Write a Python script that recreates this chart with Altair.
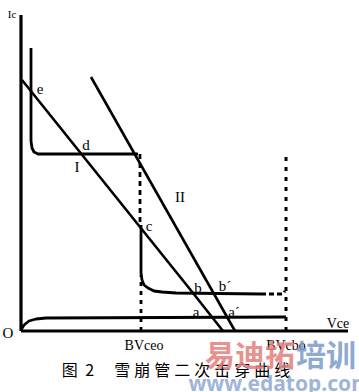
import altair as alt
import pandas as pd

# ---- data (units: Vce along x, Ic along y) ----
axis_y_x = [0, 0]
axis_y_y = [0, 316]
axis_x_x = [0, 327]
axis_x_y = [0, 0]

brk_top_x = [10, 10, 11, 13, 17, 22, 117]
brk_top_y = [283, 190, 183, 179, 177, 177, 177]
brk_mid_x = [119, 119]
brk_mid_y = [177, 106]
brk_low_x = [120, 120, 121, 123, 127, 133, 141, 155, 240]
brk_low_y = [106, 58, 51, 46, 43, 40, 39, 38, 37]
brk_end_x = [240, 262, 264]
brk_end_y = [37, 37, 40]

base_x = [0, 3, 8, 15, 25, 265]
base_y = [1, 6, 10, 12, 13, 14]

loadI_x = [1, 172, 202]
loadI_y = [251, 38, 0]
loadII_x = [70, 214]
loadII_y = [254, 0]

bvceo_x = [120, 120]
bvceo_y = [0, 56]
bvcbo_x = [265, 265]
bvcbo_y = [0, 176]

pt_labels = ["e", "d", "c", "b", "b´", "a", "a´"]
pt_x = [19, 65, 128, 177, 204, 175, 213]
pt_y = [242, 186, 105, 43, 45, 19, 19]

roman_labels = ["I", "II"]
roman_x = [56, 159]
roman_y = [164, 134]

axis_labels = ["Ic", "O", "Vce", "BVceo", "BVcbo"]
axis_lab_x = [-9, -13, 317, 123, 265]
axis_lab_y = [316, -2, 7, -15, -15]

caption = "图\u2005 2\u2003\u2005雪\u2005崩\u2005管\u2005二\u2005次\u2005击\u2005穿\u2005曲\u2005线"
caption_x = [155]
caption_y = [-40]

wm_red = ["易迪拓"]
wm_red_x = [229]
wm_red_y = [-26]
wm_blue = ["培训"]
wm_blue_x = [305]
wm_blue_y = [-26]
wm_url = ["www.edatop.com"]
wm_url_x = [259]
wm_url_y = [-54]

# ---- scales ----
XS = alt.Scale(domain=[-21, 338], nice=False, zero=False)
YS = alt.Scale(domain=[-61, 331], nice=False, zero=False)


def line(xs, ys, width=2.8, dash=None, color="#000"):
    df = pd.DataFrame({"x": xs, "y": ys, "i": list(range(len(xs)))})
    kw = dict(color=color, strokeWidth=width, strokeCap="butt", strokeJoin="round")
    if dash:
        kw["strokeDash"] = dash
    return alt.Chart(df).mark_line(**kw).encode(
        x=alt.X("x:Q", scale=XS, axis=None),
        y=alt.Y("y:Q", scale=YS, axis=None),
        order=alt.Order("i:Q"),
    )


def text(labels, xs, ys, size, font="Liberation Serif", color="#000", weight="normal", opacity=1.0):
    df = pd.DataFrame({"t": labels, "x": xs, "y": ys})
    return alt.Chart(df).mark_text(
        font=font, fontSize=size, fill=color, fontWeight=weight,
        align="center", baseline="middle", opacity=opacity,
    ).encode(
        x=alt.X("x:Q", scale=XS, axis=None),
        y=alt.Y("y:Q", scale=YS, axis=None),
        text="t:N",
    )


layers = [
    line(axis_y_x, axis_y_y, width=3.2),
    line(axis_x_x, axis_x_y, width=3.2),
    line(brk_top_x, brk_top_y),
    line(brk_mid_x, brk_mid_y, dash=[5, 4]),
    line(brk_low_x, brk_low_y),
    line(brk_end_x, brk_end_y, dash=[5, 3]),
    line(base_x, base_y),
    line(loadI_x, loadI_y, width=2.6),
    line(loadII_x, loadII_y, width=2.6),
    line(bvceo_x, bvceo_y, width=2.8, dash=[4, 5]),
    line(bvcbo_x, bvcbo_y, width=3, dash=[4, 6]),
    text(pt_labels, pt_x, pt_y, 15),
    text(roman_labels, roman_x, roman_y, 15),
    text(axis_labels[:1], axis_lab_x[:1], axis_lab_y[:1], 11),
    text(axis_labels[1:2], axis_lab_x[1:2], axis_lab_y[1:2], 15),
    text(axis_labels[2:], axis_lab_x[2:], axis_lab_y[2:], 14),
    text([caption], caption_x, caption_y, 16, font="Noto Sans CJK SC"),
    text(wm_red, wm_red_x, wm_red_y, 30, font="Noto Sans CJK SC", color="#e47f7c", weight="bold", opacity=0.85),
    text(wm_blue, wm_blue_x, wm_blue_y, 30, font="Noto Sans CJK SC", color="#7b9bcb", weight="bold", opacity=0.85),
    text(wm_url, wm_url_x, wm_url_y, 21, font="Noto Sans", color="#8fa9d2", weight="bold", opacity=0.85),
]

chart = alt.layer(*layers).properties(
    width=359, height=392,
    autosize=alt.AutoSizeParams(type="none"),
    padding=0,
    background="white",
).configure_view(stroke=None)

chart.save("out.html", embed_options={"renderer": "svg", "actions": False})
